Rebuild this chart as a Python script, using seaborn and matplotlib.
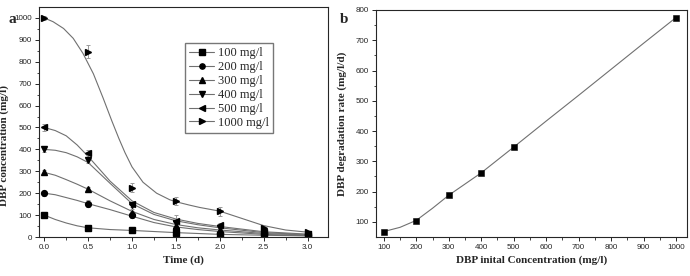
import seaborn as sns
import matplotlib.pyplot as plt
import numpy as np
import pandas as pd
from matplotlib.lines import Line2D

# measured points (panel a)
time_pts = [0.0, 0.5, 1.0, 1.5, 2.0, 2.5, 3.0]
labels = ['100 mg/l', '200 mg/l', '300 mg/l', '400 mg/l', '500 mg/l', '1000 mg/l']
conc = {
    '100 mg/l': [100, 40, 30, 20, 10, 8, 5],
    '200 mg/l': [200, 152, 100, 35, 20, 12, 8],
    '300 mg/l': [295, 218, 110, 50, 30, 15, 10],
    '400 mg/l': [400, 352, 145, 65, 40, 18, 12],
    '500 mg/l': [500, 385, 150, 75, 55, 25, 15],
    '1000 mg/l': [1000, 845, 225, 165, 118, 42, 22],
}
errs = {
    '100 mg/l': [8, 5, 5, 5, 4, 3, 3],
    '200 mg/l': [12, 15, 12, 8, 6, 4, 3],
    '300 mg/l': [10, 12, 10, 8, 6, 4, 3],
    '400 mg/l': [10, 15, 15, 10, 8, 5, 4],
    '500 mg/l': [15, 10, 12, 25, 8, 5, 4],
    '1000 mg/l': [10, 30, 20, 18, 20, 8, 6],
}
markers = ['s', 'o', '^', 'v', '<', '>']

# fitted curves (panel a)
fit_t = [0.0, 0.125, 0.25, 0.375, 0.5, 0.75, 1.0, 1.25, 1.5, 1.75, 2.0, 2.5, 3.0]
fit = {
    '100 mg/l': [100, 80, 64, 51, 42, 34, 30, 25, 20, 16, 12, 8, 5],
    '200 mg/l': [200, 193, 180, 167, 152, 125, 95, 66, 46, 34, 25, 12, 6],
    '300 mg/l': [295, 282, 262, 241, 218, 165, 117, 80, 57, 42, 32, 16, 9],
    '400 mg/l': [400, 396, 385, 366, 340, 245, 152, 103, 74, 56, 42, 20, 11],
    '500 mg/l': [500, 486, 462, 420, 368, 255, 165, 112, 82, 62, 48, 24, 13],
}
fit_t_1000 = [0.0, 0.1, 0.22, 0.33, 0.44, 0.56, 0.67, 0.77, 0.85, 0.92, 1.0, 1.125,
              1.28, 1.43, 1.5, 1.65, 1.77, 2.0, 2.25, 2.5, 2.75, 3.0]
fit_1000 = [1000, 983, 952, 907, 839, 745, 635, 530, 450, 385, 320, 250,
            200, 170, 161, 146, 135, 118, 85, 52, 32, 22]

# panel b
init_conc = [100, 200, 300, 400, 500, 1000]
deg_rate = [68, 103, 190, 260, 348, 775]
fit_b_x = [100, 150, 200, 250, 300, 400, 500, 600, 700, 800, 900, 1000]
fit_b_y = [68, 82, 105, 145, 188, 262, 347, 433, 518, 604, 690, 775]

sns.set_style('ticks')
plt.rcParams['font.family'] = ['Liberation Sans', 'DejaVu Sans']
plt.rcParams['xtick.direction'] = 'out'
plt.rcParams['ytick.direction'] = 'out'

fig = plt.figure(figsize=(6.9, 2.76), dpi=100)
ax1 = fig.add_axes([0.0565, 0.1413, 0.4185, 0.8333])
ax2 = fig.add_axes([0.545, 0.1413, 0.4507, 0.8225])

serif_bold = {'family': 'Liberation Serif', 'weight': 'bold', 'size': 8}

rows = [(t, v, lab) for lab in labels[:-1] for t, v in zip(fit_t, fit[lab])]
rows += [(t, v, labels[-1]) for t, v in zip(fit_t_1000, fit_1000)]
fit_df = pd.DataFrame(rows, columns=['t', 'c', 'series'])
sns.lineplot(data=fit_df, x='t', y='c', units='series', estimator=None, sort=True,
             color='#707070', lw=0.8, ax=ax1, legend=False)

for lab, m in zip(labels, markers):
    ax1.errorbar(time_pts, conc[lab], yerr=errs[lab], fmt=m, color='black',
                 ms=4.2, ecolor='#999999', elinewidth=0.7, capsize=1.5, capthick=0.7)

ax1.set_xlim(-0.06, 3.23)
ax1.set_ylim(0, 1050)
ax1.set_xticks(np.arange(0, 3.01, 0.5))
ax1.set_xticklabels(['0.0', '0.5', '1.0', '1.5', '2.0', '2.5', '3.0'])
ax1.set_yticks(range(0, 1001, 100))
ax1.set_xticks(np.arange(0.25, 3.1, 0.5), minor=True)
ax1.set_yticks(range(50, 1001, 100), minor=True)
ax1.set_xlabel('Time (d)', fontdict=serif_bold, labelpad=3)
ax1.set_ylabel('DBP concentration (mg/l)', fontdict=serif_bold)
ax1.yaxis.set_label_coords(-0.105, 0.40)

handles = [Line2D([], [], color='#707070', lw=0.8, marker=m, mfc='black', mec='black', ms=3.8)
           for m in markers]
ax1.legend(handles, labels, loc='upper left', bbox_to_anchor=(0.505, 0.843),
           prop={'family': 'Liberation Serif', 'size': 9}, frameon=True,
           fancybox=False, edgecolor='#555555', handlelength=2.0, labelspacing=0.15,
           borderpad=0.35, handletextpad=0.3, borderaxespad=0)

sns.lineplot(x=fit_b_x, y=fit_b_y, color='#707070', lw=0.8, ax=ax2)
sns.scatterplot(x=init_conc, y=deg_rate, marker='s', color='black', s=22,
                edgecolor='black', ax=ax2, zorder=3)
ax2.set_xlim(76, 1034)
ax2.set_ylim(50, 800)
ax2.set_xticks(range(100, 1001, 100))
ax2.set_xticks(range(150, 1001, 100), minor=True)
ax2.set_yticks(range(100, 801, 100))
ax2.set_yticks(range(150, 801, 100), minor=True)
ax2.set_xlabel('DBP inital Concentration (mg/l)', fontdict=serif_bold, labelpad=3)
ax2.set_ylabel('DBP degradation rate (mg/l/d)', fontdict=serif_bold)
ax2.yaxis.set_label_coords(-0.095, 0.5)

for ax in (ax1, ax2):
    ax.tick_params(labelsize=5.8, length=3, width=0.7, pad=2)
    ax.tick_params(which='minor', length=1.8, width=0.6)
    for s in ax.spines.values():
        s.set_linewidth(0.8)
        s.set_visible(True)

fig.text(0.012, 0.915, 'a', fontdict={'family': 'Liberation Serif', 'weight': 'bold', 'size': 11})
fig.text(0.493, 0.915, 'b', fontdict={'family': 'Liberation Serif', 'weight': 'bold', 'size': 11})

fig.savefig('out.png', dpi=100)
